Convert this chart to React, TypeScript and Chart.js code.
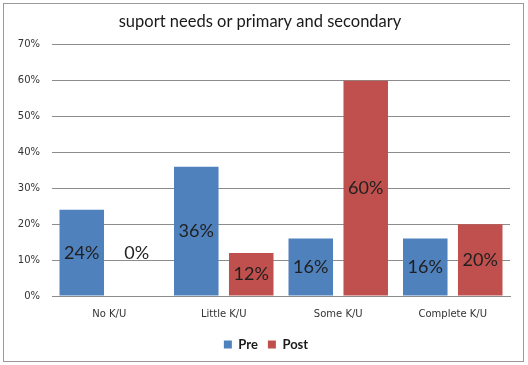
import React, { useEffect, useRef } from "react";
import { Chart, registerables } from "chart.js";

Chart.register(...registerables);

const title = "suport needs or primary and secondary";
const categories = ["No K/U", "Little K/U", "Some K/U", "Complete K/U"];
const preValues = [24, 36, 16, 16];
const postValues = [0, 12, 60, 20];
const seriesNames = ["Pre", "Post"];
const seriesColors = ["#4F81BD", "#C0504D"];
const yMax = 70;
const yStep = 10;

const frameAndLabels = {
  id: "frameAndLabels",
  afterLayout(chart: any) {
    const lg = chart.legend;
    if (lg) {
      lg.left += 11;
      lg.right += 11;
    }
    const tb = chart.titleBlock;
    if (tb) {
      tb.left += 5;
      tb.right += 5;
    }
  },
  beforeDraw(chart: any) {
    const ctx = chart.ctx;
    ctx.save();
    ctx.fillStyle = "#ffffff";
    ctx.fillRect(0, 0, chart.width, chart.height);
    ctx.strokeStyle = "#9a9a9a";
    ctx.lineWidth = 1;
    ctx.strokeRect(3.5, 3.5, chart.width - 8, chart.height - 7);
    ctx.restore();
  },
  afterDatasetsDraw(chart: any) {
    const ctx = chart.ctx;
    const yScale = chart.scales.y;
    ctx.save();
    ctx.font = "18px Lato";
    ctx.fillStyle = "#1f1f1f";
    ctx.textAlign = "center";
    ctx.textBaseline = "middle";
    chart.data.datasets.forEach((ds: any, di: number) => {
      const meta = chart.getDatasetMeta(di);
      meta.data.forEach((bar: any, i: number) => {
        const v = ds.data[i];
        let mid = v / 2;
        if (v === 0) {
          const groupMax = Math.max(...chart.data.datasets.map((d: any) => d.data[i]));
          mid = groupMax / 2;
        }
        ctx.fillText(v + "%", bar.x, yScale.getPixelForValue(mid));
      });
    });
    ctx.restore();
  },
};

export default function App() {
  const ref = useRef<HTMLCanvasElement>(null);
  useEffect(() => {
    if (!ref.current) return;
    const chart = new Chart(ref.current, {
      type: "bar",
      data: {
        labels: categories,
        datasets: [
          { label: seriesNames[0], data: preValues, backgroundColor: seriesColors[0] },
          { label: seriesNames[1], data: postValues, backgroundColor: seriesColors[1] },
        ],
      },
      options: {
        responsive: false,
        animation: false,
        devicePixelRatio: 1,
        layout: { padding: { left: 0, right: 18, top: 0, bottom: 4 } },
        datasets: { bar: { categoryPercentage: 0.96, barPercentage: 0.81 } },
        plugins: {
          title: {
            display: true,
            text: title,
            color: "#1a1a1a",
            font: { family: "Lato", size: 16.5, weight: "normal", lineHeight: 1.2 },
            padding: { top: 12, bottom: 13 },
          },
          legend: {
            display: true,
            position: "bottom",
            labels: {
              boxWidth: 8,
              boxHeight: 8,
              padding: 10,
              color: "#1a1a1a",
              font: { family: "Lato", size: 13, weight: "bold" },
            },
          },
          tooltip: { enabled: false },
        },
        scales: {
          x: {
            grid: { display: false, drawTicks: false },
            border: { display: true, color: "#8c8c8c" },
            ticks: { color: "#333333", font: { family: "DejaVu Sans", size: 10 }, padding: 12 },
            afterFit: (s: any) => { s.height = 32; },
          },
          y: {
            min: 0,
            max: yMax,
            grid: { color: "#8c8c8c", drawTicks: false },
            border: { display: false },
            ticks: {
              stepSize: yStep,
              color: "#333333",
              font: { family: "DejaVu Sans", size: 10 },
              padding: 12,
              callback: (v: any) => v + "%",
            },
            afterFit: (s: any) => { s.width = 52; },
          },
        },
      },
      plugins: [frameAndLabels],
    });
    return () => chart.destroy();
  }, []);
  return (
    <div style={{ position: "absolute", left: 0, top: 0, width: 528, height: 365 }}>
      <canvas ref={ref} width={528} height={365} style={{ display: "block" }} />
    </div>
  );
}
